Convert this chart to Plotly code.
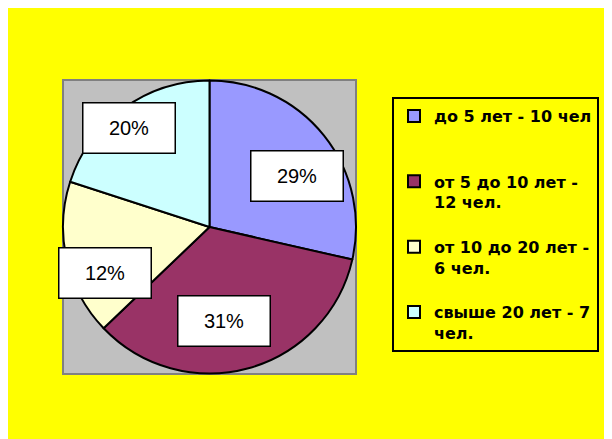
import plotly.graph_objects as go

labels = ["до 5 лет - 10 чел<br>\u00a0<br>\u00a0",
          "от 5 до 10 лет -<br>12 чел.<br>\u00a0",
          "от 10 до 20 лет -<br>6 чел.<br>\u00a0",
          "свыше 20 лет - 7<br>чел."]
values = [10, 12, 6, 7]
pct_text = ["29%", "31%", "12%", "20%"]
colors = ["#9999FF", "#993366", "#FFFFCC", "#CCFFFF"]
# label box centres (fraction of plot area)
label_x = [0.797, 0.551, 0.142, 0.225]
label_y = [0.673, 0.180, 0.344, 0.837]

W, H = 612, 439
L, R, T, B = 55, 264, 72, 73
pw, ph = W - L - R, H - T - B

def px(x):
    return (x - L) / pw

def py(y):
    return (H - B - y) / ph

fig = go.Figure(go.Pie(
    labels=labels, values=values, sort=False, direction="clockwise", rotation=0,
    marker=dict(colors=colors, line=dict(color="black", width=2)),
    textinfo="none", hoverinfo="label+percent", showlegend=True,
))

shapes = [
    dict(type="rect", xref="paper", yref="paper", x0=0, x1=1, y0=0, y1=1,
         fillcolor="#C0C0C0", line=dict(color="#808080", width=2), layer="below"),
]

annotations = [
    dict(x=x, y=y, xref="paper", yref="paper", text=t, showarrow=False,
         xanchor="center", yanchor="middle", width=89, height=47,
         bgcolor="white", bordercolor="black", borderwidth=1.5, borderpad=1,
         font=dict(family="Liberation Sans, Arial, sans-serif", size=20, color="black"))
    for x, y, t in zip(label_x, label_y, pct_text)
]

fig.update_layout(
    width=W, height=H, margin=dict(l=L, r=R, t=T, b=B),
    paper_bgcolor="#FFFF00", plot_bgcolor="#FFFF00",
    shapes=shapes, annotations=annotations,
    legend=dict(x=px(384), y=py(89), xanchor="left", yanchor="top",
                bgcolor="#FFFF00", bordercolor="black", borderwidth=2,
                valign="top", traceorder="normal",
                font=dict(family="DejaVu Sans, sans-serif", size=16, color="black", weight="bold")),
)
fig.write_html("out.html")
